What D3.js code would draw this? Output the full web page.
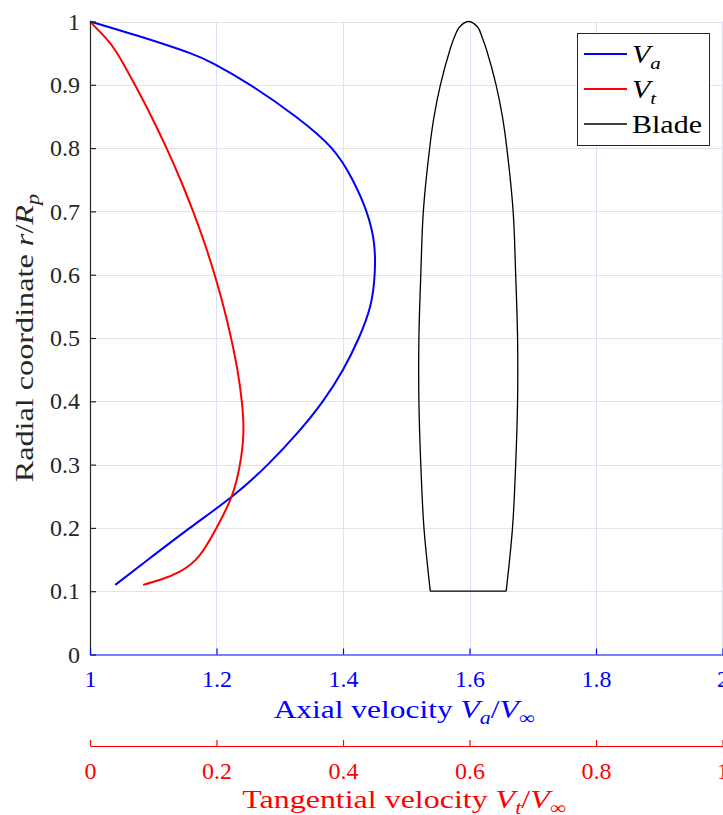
<!DOCTYPE html>
<html><head><meta charset="utf-8">
<script src="https://cdn.jsdelivr.net/npm/d3@7"></script>
<style>body{margin:0;background:#fff}</style>
</head><body>
<svg id="c" width="723" height="815"></svg>
<script>
// ---- data ----
const radiusA = [0.11,0.15,0.2,0.25,0.3,0.35,0.4,0.45,0.5,0.55,0.6,0.65,0.7,0.75,0.8,0.85,0.9,0.933,0.95,0.975,1.0];
const axialVelocity = [1.040,1.092,1.158,1.225,1.281,1.328,1.368,1.400,1.425,1.443,1.450,1.449,1.437,1.415,1.382,1.325,1.253,1.196,1.158,1.083,1.000];
const radiusT = [0.11,0.118,0.131,0.155,0.2,0.25,0.3,0.35,0.4,0.45,0.5,0.55,0.6,0.65,0.7,0.75,0.8,0.85,0.9,0.95,0.975,1.0];
const tangentialVelocity = [0.084,0.111,0.142,0.172,0.200,0.224,0.237,0.2425,0.240,0.233,0.223,0.211,0.197,0.181,0.163,0.143,0.121,0.097,0.071,0.043,0.024,0.000];
const bladeRadius = [0.1,0.2,0.3,0.4,0.5,0.6,0.7,0.8,0.85,0.9,0.955,0.975,0.991,1.0];
const bladeLeft  = [1.538,1.528,1.523,1.520,1.520,1.523,1.527,1.537,1.544,1.554,1.569,1.576,1.584,1.598];
const bladeRight = [1.658,1.668,1.673,1.676,1.676,1.673,1.669,1.659,1.652,1.642,1.627,1.620,1.613,1.598];
const yTicks = [0,0.1,0.2,0.3,0.4,0.5,0.6,0.7,0.8,0.9,1];
const axialTicks = [1,1.2,1.4,1.6,1.8,2];
const tangentialTicks = [0,0.2,0.4,0.6,0.8,1];

// ---- setup ----
const svg = d3.select("#c");
const FONT = "'Liberation Serif','Times New Roman',serif";
const x = d3.scaleLinear().domain([1,2]).range([90,722.5]);
const xt = d3.scaleLinear().domain([0,1]).range([90,722.5]);
const y = d3.scaleLinear().domain([0,1]).range([654.5,21.5]);
const fmt = d3.format("~g");
const snap = v => Math.min(Math.round(v) + 0.5, 722.5);

// grid
svg.append("g").selectAll("line").data(yTicks.filter(d=>d>0)).join("line")
  .attr("x1",x.range()[0]).attr("x2",x.range()[1])
  .attr("y1",d=>snap(y(d))).attr("y2",d=>snap(y(d)))
  .attr("stroke","#e3e3e3").attr("stroke-width",1);
svg.append("g").selectAll("line").data(axialTicks.filter(d=>d>1)).join("line")
  .attr("x1",d=>snap(x(d))).attr("x2",d=>snap(x(d)))
  .attr("y1",y(0)).attr("y2",y(1))
  .attr("stroke","#dedef8").attr("stroke-width",1);

// curves
const smooth = d3.curveNatural;
const lineVa = d3.line().x((d,i)=>x(axialVelocity[i])).y(d=>y(d)).curve(smooth);
const lineVt = d3.line().x((d,i)=>xt(tangentialVelocity[i])).y(d=>y(d)).curve(smooth);
svg.append("path").attr("d",lineVa(radiusA)).attr("fill","none").attr("stroke","#0000ff").attr("stroke-width",2);
svg.append("path").attr("d",lineVt(radiusT)).attr("fill","none").attr("stroke","#ff0000").attr("stroke-width",2);

// blade
const bladePts = bladeRadius.map((r,i)=>[bladeLeft[i],r])
  .concat(bladeRadius.slice(0,-1).map((r,i)=>[bladeRight[i],r]).reverse());
const bladeLine = d3.line().x(d=>x(d[0])).y(d=>y(d[1])).curve(d3.curveCatmullRom.alpha(0.5));
svg.append("path").attr("d",bladeLine(bladePts)).attr("fill","none").attr("stroke","#000").attr("stroke-width",1.3);
svg.append("path").attr("d",d3.line().x(d=>x(d[0])).y(d=>y(d[1]))([[bladeLeft[0],bladeRadius[0]],[bladeRight[0],bladeRadius[0]]]))
  .attr("fill","none").attr("stroke","#000").attr("stroke-width",1.3);

// axes
function styleAxis(g,color){
  g.select(".domain").attr("stroke",color).attr("stroke-width",1.2);
  g.selectAll(".tick line").attr("stroke",color).attr("stroke-width",1.2);
  g.selectAll(".tick text").attr("fill",color).style("font-family",FONT).style("font-size","24px");
}
const gy = svg.append("g").attr("transform",`translate(${x.range()[0]},0)`)
  .call(d3.axisLeft(y).tickValues(yTicks).tickSize(-6).tickSizeOuter(0).tickPadding(10).tickFormat(fmt));
styleAxis(gy,"#262626");
const gx = svg.append("g").attr("transform",`translate(0,${y(0)})`)
  .call(d3.axisBottom(x).tickValues(axialTicks).tickSize(-6).tickSizeOuter(0).tickPadding(15).tickFormat(fmt));
styleAxis(gx,"#0000ff");
const gt = svg.append("g").attr("transform",`translate(0,746)`)
  .call(d3.axisBottom(xt).tickValues(tangentialTicks).tickSize(-6).tickSizeOuter(0).tickPadding(16).tickFormat(fmt));
styleAxis(gt,"#ff0000");

// math-ish label helper
function label(sel, parts, size){
  parts.forEach(p=>{
    const t = sel.append("tspan").text(p.t);
    if(p.i) t.style("font-style","italic");
    if(p.sub){ t.attr("dy",6).style("font-size",(size*0.7)+"px"); }
    if(p.back){ t.attr("dy",-6); }
  });
}
const tx = svg.append("text").attr("transform","translate(404,717.5) scale(1.21,1)").attr("text-anchor","middle")
  .attr("fill","#0000ff").style("font-family",FONT).style("font-size","26px");
label(tx,[{t:"Axial velocity "},{t:"V",i:1},{t:"a",i:1,sub:1},{t:"/",back:1},{t:"V",i:1},{t:"∞",sub:1}],26);
const tt = svg.append("text").attr("transform","translate(404,808) scale(1.23,1)").attr("text-anchor","middle")
  .attr("fill","#ff0000").style("font-family",FONT).style("font-size","26px");
label(tt,[{t:"Tangential velocity "},{t:"V",i:1},{t:"t",i:1,sub:1},{t:"/",back:1},{t:"V",i:1},{t:"∞",sub:1}],26);
const ty = svg.append("text").attr("transform","translate(33,338) rotate(-90) scale(1.24,1)").attr("text-anchor","middle")
  .attr("fill","#262626").style("font-family",FONT).style("font-size","26px");
label(ty,[{t:"Radial coordinate "},{t:"r",i:1},{t:"/"},{t:"R",i:1},{t:"p",i:1,sub:1}],26);

// legend
const lg = svg.append("g");
lg.append("rect").attr("x",577.5).attr("y",33.5).attr("width",132).attr("height",112)
  .attr("fill","#fff").attr("stroke","#262626").attr("stroke-width",1);
const legendItems = [{c:"#0000ff",w:2,parts:[{t:"V",i:1},{t:"a",i:1,sub:1}]},
                     {c:"#ff0000",w:2,parts:[{t:"V",i:1},{t:"t",i:1,sub:1}]},
                     {c:"#000",w:1.3,parts:[{t:"Blade"}]}];
legendItems.forEach((it,k)=>{
  const yy = 54 + k*35;
  lg.append("line").attr("x1",584).attr("x2",627).attr("y1",yy).attr("y2",yy).attr("stroke",it.c).attr("stroke-width",it.w);
  const t = lg.append("text").attr("transform",`translate(632,${yy+9}) scale(1.2,1)`).attr("fill","#000")
    .style("font-family",FONT).style("font-size","25px");
  label(t,it.parts,25);
});
</script>
</body></html>
